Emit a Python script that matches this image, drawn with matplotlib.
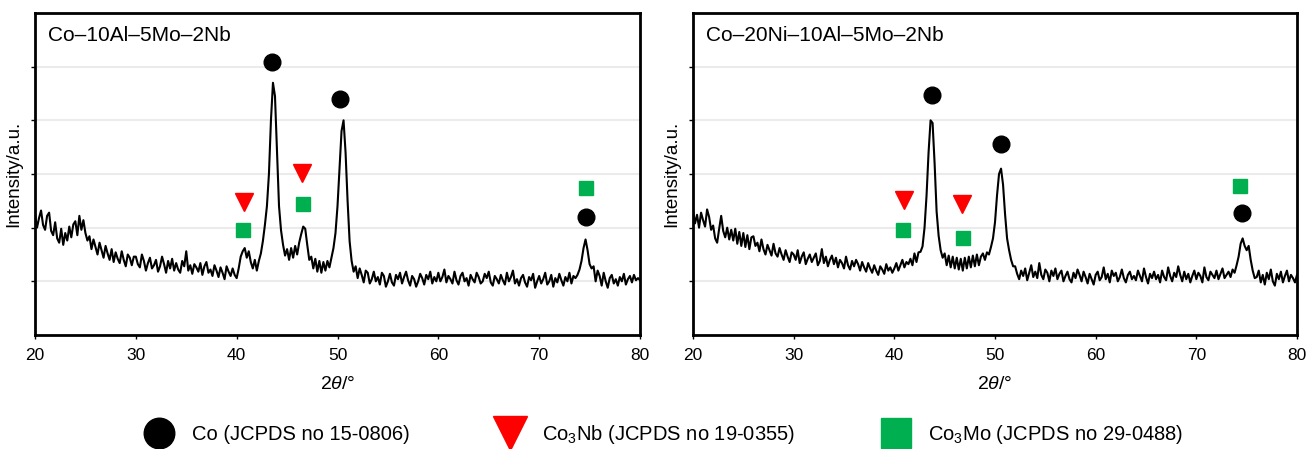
import numpy as np
import matplotlib
matplotlib.use("Agg")
import matplotlib.pyplot as plt
from matplotlib.lines import Line2D

plt.rcParams['font.family'] = ['Liberation Sans', 'DejaVu Sans']
plt.rcParams['mathtext.fontset'] = 'custom'
plt.rcParams['mathtext.rm'] = 'Liberation Sans'
plt.rcParams['mathtext.it'] = 'Liberation Sans:italic'

# 2theta grid (deg), step 0.2
two_theta = np.round(np.arange(20.0, 80.001, 0.2), 1)

# intensity (a.u. x100)
int_left = [
    225, 200, 218, 232, 205, 196, 222, 228, 194, 186,
    210, 180, 172, 198, 168, 190, 176, 202, 182, 206,
    212, 186, 222, 196, 214, 190, 176, 184, 160, 178,
    164, 150, 172, 158, 144, 166, 152, 140, 160, 136,
    154, 142, 134, 156, 140, 128, 150, 144, 130, 146,
    146, 132, 126, 150, 138, 120, 134, 144, 124, 130,
    140, 118, 128, 146, 132, 116, 138, 124, 142, 120,
    134, 122, 116, 138, 128, 156, 120, 130, 114, 132,
    126, 118, 134, 112, 128, 136, 116, 122, 110, 130,
    120, 108, 126, 116, 104, 128, 118, 110, 124, 112,
    106, 124, 146, 156, 162, 144, 156, 136, 124, 140,
    120, 138, 152, 175, 205, 240, 300, 400, 470, 445,
    340, 240, 195, 168, 148, 160, 140, 162, 144, 166,
    150, 172, 188, 202, 198, 168, 140, 146, 124, 142,
    118, 138, 116, 136, 120, 138, 126, 144, 162, 190,
    240, 310, 380, 400, 340, 250, 175, 138, 118, 128,
    106, 124, 112, 98, 120, 116, 96, 104, 118, 100,
    108, 94, 116, 110, 90, 100, 114, 98, 92, 112,
    104, 116, 96, 108, 118, 102, 92, 110, 104, 90,
    100, 114, 106, 94, 112, 104, 118, 96, 108, 100,
    116, 100, 108, 122, 98, 110, 104, 96, 118, 102,
    94, 110, 116, 100, 106, 92, 112, 104, 98, 116,
    108, 96, 100, 114, 106, 118, 98, 92, 110, 104,
    96, 112, 102, 94, 116, 100, 108, 120, 96, 104,
    92, 106, 112, 98, 90, 108, 102, 114, 88, 100,
    110, 96, 104, 116, 94, 100, 112, 90, 106, 98,
    114, 102, 92, 108, 100, 116, 96, 110, 106, 112,
    122, 138, 162, 178, 158, 132, 124, 128, 100, 120,
    110, 92, 116, 100, 88, 106, 112, 96, 104, 92,
    108, 100, 114, 94, 104, 110, 98, 112, 102, 106,
    102,
]

# intensity (a.u. x100)
int_right = [
    232, 208, 224, 200, 228, 214, 202, 234, 220, 196,
    204, 180, 172, 198, 222, 194, 182, 200, 178, 196,
    176, 198, 170, 192, 166, 190, 164, 186, 160, 182,
    184, 166, 172, 156, 178, 160, 150, 168, 158, 148,
    170, 152, 146, 162, 150, 140, 158, 146, 136, 154,
    150, 140, 158, 134, 146, 154, 132, 142, 150, 136,
    144, 152, 130, 138, 160, 134, 146, 128, 140, 148,
    132, 144, 126, 140, 134, 124, 146, 130, 122, 138,
    128, 140, 132, 120, 136, 126, 118, 134, 124, 116,
    130, 120, 112, 128, 122, 114, 132, 120, 126, 116,
    124, 134, 120, 130, 140, 126, 136, 132, 142, 130,
    152, 136, 154, 155, 165, 200, 260, 340, 400, 395,
    320, 230, 185, 158, 144, 152, 130, 148, 126, 146,
    124, 144, 122, 142, 120, 144, 124, 146, 126, 148,
    128, 150, 130, 146, 152, 140, 154, 150, 164, 180,
    210, 260, 300, 310, 280, 225, 180, 158, 140, 128,
    128, 114, 104, 120, 110, 124, 102, 116, 130, 108,
    118, 106, 134, 112, 104, 122, 116, 100, 120, 110,
    124, 104, 114, 120, 100, 110, 118, 104, 98, 116,
    106, 122, 112, 100, 118, 108, 96, 114, 104, 94,
    112, 118, 102, 108, 126, 104, 114, 98, 120, 110,
    116, 100, 108, 122, 106, 98, 112, 118, 104, 110,
    102, 120, 110, 100, 124, 108, 96, 114, 106, 118,
    104, 112, 98, 120, 108, 102, 126, 110, 100, 116,
    108, 128, 112, 100, 118, 104, 114, 98, 110, 120,
    104, 116, 110, 98, 126, 108, 102, 118, 112, 106,
    120, 104, 114, 124, 106, 112, 118, 108, 122, 116,
    130, 146, 170, 180, 166, 158, 166, 140, 120, 106,
    108, 120, 98, 112, 94, 116, 104, 122, 100, 92,
    114, 104, 118, 98, 110, 120, 100, 112, 106, 98,
    112,
]

# phase markers: (2theta, height) per panel
co_left = ([43.5, 50.2, 74.6], [509, 440, 220])
nb_left = ([40.7, 46.5], [248, 301])
mo_left = ([40.6, 46.6, 74.6], [196, 244, 273])
co_right = ([43.7, 50.6, 74.5], [447, 355, 227])
nb_right = ([41.0, 46.7], [251, 245])
mo_right = ([40.9, 46.8, 74.3], [196, 181, 278])

titles = ["Co\u201310Al\u20135Mo\u20132Nb", "Co\u201320Ni\u201310Al\u20135Mo\u20132Nb"]
legend_labels = ["Co (JCPDS no 15-0806)",
                 "Co$_3$Nb (JCPDS no 19-0355)",
                 "Co$_3$Mo (JCPDS no 29-0488)"]

GREEN = "#00b050"
RED = "#ff0000"

fig = plt.figure(figsize=(13.09, 4.49), dpi=100)
ax_l = fig.add_axes([35/1309, 114/449, 605/1309, 322/449])
ax_r = fig.add_axes([693/1309, 114/449, 604/1309, 322/449])

panels = [
    (ax_l, int_left, co_left, nb_left, mo_left, titles[0]),
    (ax_r, int_right, co_right, nb_right, mo_right, titles[1]),
]

for ax, yy, co, nb, mo, title in panels:
    ax.plot(two_theta, yy, color="black", lw=1.5, zorder=3)
    ax.plot(co[0], co[1], "o", ms=12, color="black", ls="none", zorder=4)
    ax.plot(nb[0], nb[1], "v", ms=13, color=RED, ls="none", zorder=4)
    ax.plot(mo[0], mo[1], "s", ms=10, color=GREEN, ls="none", zorder=4)

    ax.set_xlim(20, 80)
    ax.set_ylim(0, 600)
    ax.set_xticks(range(20, 81, 10))
    ax.set_yticks(range(100, 501, 100))
    ax.set_yticklabels([])
    ax.grid(axis="y", color="#ebebeb", lw=1.5, zorder=0)
    ax.tick_params(axis="both", length=3, width=1, labelsize=12.5, direction="out")
    ax.tick_params(axis="x", pad=6)
    for sp in ax.spines.values():
        sp.set_linewidth(2)
    ax.set_xlabel(r"2$\theta$/°", fontsize=14, labelpad=10)
    ax.set_ylabel("Intensity/a.u.", fontsize=13.5, labelpad=3)
    ax.text(0.022, 0.93, title, transform=ax.transAxes, fontsize=15,
            ha="left", va="center")

handles = [
    Line2D([], [], marker="o", ls="none", color="black", ms=22),
    Line2D([], [], marker="v", ls="none", color=RED, ms=24),
    Line2D([], [], marker="s", ls="none", color=GREEN, ms=21),
]
fig.legend(handles, legend_labels, loc="center", bbox_to_anchor=(0.508, 0.033),
           ncol=3, frameon=False, fontsize=14.5, handletextpad=0.95,
           columnspacing=4.35, handlelength=1.3)

fig.savefig("out.png", dpi=100)
